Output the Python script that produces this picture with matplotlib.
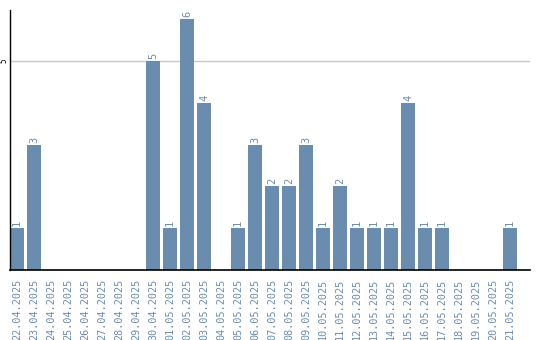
import numpy as np
import matplotlib.pyplot as plt

dates = ['22.04.2025', '23.04.2025', '24.04.2025', '25.04.2025', '26.04.2025',
         '27.04.2025', '28.04.2025', '29.04.2025', '30.04.2025', '01.05.2025',
         '02.05.2025', '03.05.2025', '04.05.2025', '05.05.2025', '06.05.2025',
         '07.05.2025', '08.05.2025', '09.05.2025', '10.05.2025', '11.05.2025',
         '12.05.2025', '13.05.2025', '14.05.2025', '15.05.2025', '16.05.2025',
         '17.05.2025', '18.05.2025', '19.05.2025', '20.05.2025', '21.05.2025']
counts = [1, 3, 0, 0, 0, 0, 0, 0, 5, 1,
          6, 4, 0, 1, 3, 2, 2, 3, 1, 2,
          1, 1, 1, 4, 1, 1, 0, 0, 0, 1]

bar_color = '#6a8caf'
text_color = '#6a8caf'

fig = plt.figure(figsize=(5.4, 3.4), dpi=100)
ax = fig.add_axes([10 / 540, 70 / 340, 520 / 540, 260 / 340])

x = np.arange(len(dates))
width = 14 / 17
ax.bar(x, counts, width=width, color=bar_color, zorder=2)

# value labels above bars
for xi, c in zip(x, counts):
    if c > 0:
        ax.text(xi, c + 0.05, str(c), rotation=90, ha='center', va='bottom',
                fontsize=7.5, family='DejaVu Sans Mono', color=text_color)

ax.set_xlim(-width / 2, -width / 2 + 520 / 17)
ax.set_ylim(0, 6.22)
ax.set_yticks([5])
ax.set_yticklabels(['5'], rotation=90, va='center', fontsize=5.5,
                   family='DejaVu Sans Mono')
ax.yaxis.grid(True, color='#c8c8c8', linewidth=1, zorder=0)
ax.tick_params(axis='y', length=0, pad=1)

ax.set_xticks(x)
ax.set_xticklabels(dates, rotation=90, fontsize=7.3, family='DejaVu Sans Mono',
                   color=text_color, va='top')
ax.tick_params(axis='x', length=0, pad=6)

for s in ['top', 'right']:
    ax.spines[s].set_visible(False)
ax.spines['left'].set_linewidth(1)
ax.spines['bottom'].set_linewidth(1.2)

fig.savefig('out.png', dpi=100)
